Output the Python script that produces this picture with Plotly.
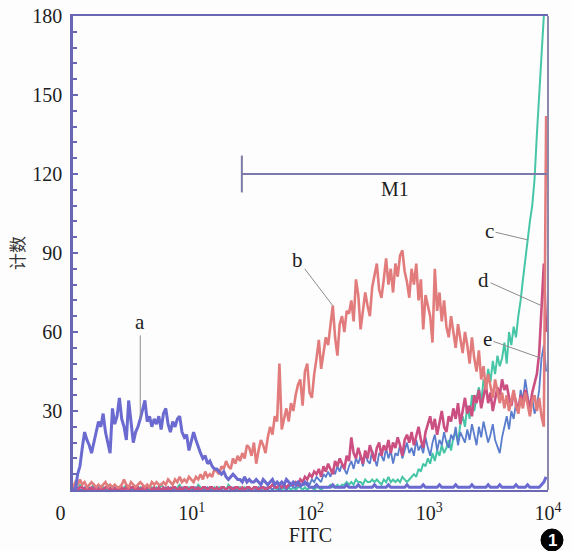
import plotly.graph_objects as go

# histogram channels (1024-channel, 4-decade log scale)
channel = list(range(0, 1021, 5))

# tick labels
x_tickvals = [0, 256, 512, 768, 1024]
x_ticktext = ["0\u00a0\u00a0\u00a0\u00a0\u00a0", "10<sup>1</sup>", "10<sup>2</sup>", "10<sup>3</sup>", "10<sup>4</sup>"]
y_tickvals = [30, 60, 90, 120, 150, 180]

series_a = [
    0, 0, 6, 9, 16, 22, 19, 17, 14, 18,
    21, 26, 24, 29, 22, 18, 14, 31, 25, 28,
    35, 27, 24, 19, 34, 26, 18, 22, 24, 27,
    30, 34, 26, 28, 24, 27, 25, 28, 23, 29,
    31, 25, 22, 26, 24, 27, 28, 22, 20, 21,
    15, 18, 22, 19, 16, 14, 12, 13, 10, 11,
    9, 8, 8, 7, 6, 7, 5, 4, 5, 6,
    5, 4, 4, 3, 5, 3, 4, 3, 3, 4,
    3, 2, 4, 3, 2, 3, 4, 2, 3, 2,
    3, 2, 4, 3, 2, 3, 2, 3, 2, 2,
    3, 2, 1, 1, 1, 2, 1, 1, 1, 1,
    1, 1, 2, 1, 1, 1, 1, 1, 2, 1,
    1, 1, 1, 2, 1, 1, 1, 1, 1, 1,
    2, 1, 1, 1, 1, 1, 2, 1, 1, 1,
    1, 1, 1, 1, 2, 1, 1, 1, 1, 1,
    1, 2, 1, 1, 1, 1, 1, 1, 2, 1,
    1, 1, 1, 1, 1, 2, 1, 1, 1, 1,
    1, 1, 2, 1, 1, 1, 1, 1, 1, 2,
    1, 1, 1, 1, 2, 1, 1, 1, 1, 1,
    1, 2, 1, 1, 1, 1, 2, 1, 1, 1,
    1, 1, 2, 3, 5,
]

series_b = [
    1, 3, 2, 4, 2, 3, 1, 2, 3, 2,
    1, 2, 1, 2, 3, 1, 2, 1, 2, 1,
    1, 2, 4, 2, 1, 3, 2, 1, 2, 3,
    2, 1, 2, 1, 3, 2, 3, 2, 2, 3,
    2, 4, 3, 2, 4, 3, 5, 3, 4, 3,
    5, 4, 3, 5, 4, 6, 4, 7, 5, 6,
    5, 8, 7, 6, 9, 8, 11, 9, 8, 12,
    10, 13, 11, 14, 12, 17, 16, 13, 18, 10,
    15, 19, 17, 14, 20, 24, 21, 28, 26, 48,
    23, 27, 31, 26, 33, 30, 36, 40, 42, 32,
    45, 48, 37, 35, 44, 50, 57, 46, 52, 58,
    55, 62, 70, 58, 51, 63, 66, 60, 68, 67,
    72, 64, 80, 74, 61, 68, 75, 70, 66, 77,
    82, 86, 76, 73, 80, 88, 78, 84, 75, 86,
    81, 89, 91, 83, 79, 73, 84, 78, 86, 72,
    80, 61, 74, 70, 66, 56, 84, 68, 75, 64,
    72, 62, 58, 66, 60, 54, 63, 57, 52, 60,
    55, 48, 58, 50, 45, 53, 42, 47, 38, 44,
    40, 35, 42, 38, 33, 37, 31, 36, 30, 34,
    38, 32, 29, 35, 31, 37, 33, 28, 34, 36,
    30, 35, 28, 24, 142,
]

series_c = [
    0, 1, 0, 2, 1, 0, 1, 0, 1, 2,
    0, 1, 0, 1, 0, 2, 1, 0, 1, 0,
    1, 0, 1, 2, 0, 1, 0, 1, 0, 1,
    0, 1, 2, 0, 1, 0, 1, 0, 2, 1,
    0, 1, 0, 1, 0, 1, 2, 0, 1, 0,
    1, 0, 1, 0, 2, 1, 0, 1, 0, 1,
    0, 1, 0, 1, 0, 1, 0, 2, 1, 0,
    1, 0, 1, 0, 1, 0, 1, 0, 1, 0,
    1, 0, 1, 0, 1, 1, 0, 1, 0, 1,
    0, 1, 0, 1, 0, 1, 0, 1, 1, 0,
    1, 0, 1, 1, 0, 1, 1, 0, 1, 1,
    1, 2, 1, 1, 2, 1, 2, 2, 3, 2,
    3, 2, 4, 3, 3, 2, 4, 3, 3, 4,
    3, 4, 3, 2, 4, 3, 5, 3, 4, 3,
    4, 3, 5, 4, 3, 4, 5, 6, 5, 8,
    7, 10, 9, 12, 10, 14, 11, 15, 13, 17,
    14, 16, 19, 15, 20, 22, 18, 25, 28, 24,
    32, 27, 36, 30, 35, 39, 33, 42, 38, 46,
    41, 49, 44, 51, 47, 50, 56, 48, 60, 55,
    62, 58, 66, 72, 80, 88, 95, 102, 108, 118,
    135, 150, 168, 186, 195,
]

series_d = [
    0, 1, 0, 1, 1, 0, 1, 0, 1, 0,
    1, 0, 1, 0, 1, 1, 0, 1, 0, 1,
    0, 1, 0, 1, 0, 1, 1, 0, 1, 0,
    1, 0, 1, 1, 0, 1, 0, 1, 0, 1,
    0, 1, 0, 1, 1, 0, 1, 0, 1, 1,
    0, 1, 1, 0, 1, 0, 1, 1, 0, 1,
    1, 0, 1, 0, 1, 1, 0, 1, 1, 0,
    1, 1, 0, 1, 0, 1, 1, 0, 1, 1,
    0, 1, 1, 0, 1, 1, 2, 1, 1, 2,
    1, 2, 1, 2, 2, 2, 3, 2, 4, 3,
    5, 4, 6, 5, 7, 6, 8, 5, 9, 7,
    10, 8, 6, 11, 9, 12, 10, 8, 13, 11,
    20, 14, 12, 16, 13, 10, 15, 12, 17, 14,
    11, 16, 18, 13, 17, 15, 19, 14, 18, 16,
    20, 17, 13, 19, 21, 18, 22, 17, 20, 24,
    19, 16, 22, 25, 28, 23, 27, 21, 26, 30,
    24, 22, 28, 26, 31, 27, 33, 25, 30, 35,
    29, 32, 28, 36, 33, 38, 31, 35, 40, 33,
    37, 30, 34, 39, 36, 42, 38, 40, 35, 32,
    37, 34, 30, 36, 33, 38, 35, 31, 37, 40,
    44, 52, 70, 86, 60,
]

series_e = [
    1, 0, 1, 0, 0, 1, 0, 1, 0, 1,
    0, 1, 0, 0, 1, 0, 1, 0, 1, 0,
    0, 1, 0, 1, 0, 0, 1, 0, 1, 0,
    1, 0, 0, 1, 0, 1, 0, 1, 0, 0,
    1, 0, 1, 0, 1, 0, 0, 1, 0, 1,
    0, 1, 0, 1, 0, 0, 1, 0, 1, 0,
    1, 0, 1, 0, 0, 1, 0, 1, 0, 1,
    0, 1, 0, 1, 0, 1, 0, 0, 1, 0,
    1, 0, 1, 1, 0, 1, 0, 1, 1, 0,
    1, 1, 0, 1, 2, 1, 1, 2, 1, 2,
    2, 3, 2, 4, 3, 5, 4, 3, 6, 5,
    7, 5, 8, 6, 9, 7, 10, 8, 6, 9,
    11, 8, 12, 10, 13, 9, 14, 11, 10, 15,
    12, 9, 14, 13, 11, 16, 12, 15, 10, 14,
    13, 17, 12, 15, 18, 14, 16, 13, 19, 15,
    17, 14, 20, 16, 13, 18, 21, 15, 19, 17,
    22, 18, 16, 21, 19, 24, 17, 22, 20, 18,
    23, 19, 25, 21, 17, 24, 20, 26, 22, 18,
    21, 25, 19, 16, 14, 20, 24, 28, 23, 30,
    27, 33, 29, 38, 34, 42, 36, 31, 35, 29,
    32, 38, 50, 55, 45,
]

# M1 gate (channels) and its level (count)
gate_start = 364
gate_end = 1024
gate_level = 120
gate_cap = 7

for s in (series_a, series_b, series_c, series_d, series_e):
    if len(s) != len(channel):
        raise ValueError(f"length {len(s)} != {len(channel)}")

SERIF = "Liberation Serif, Times New Roman, serif"
AXIS_COL = "#6a68b2"

fig = go.Figure()
traces = [
    ("c", series_c, "#46c6a6", 2.0),
    ("e", series_e, "#5a7ccc", 1.8),
    ("d", series_d, "#cc4f82", 2.6),
    ("b", series_b, "#e27c7c", 2.6),
    ("a", series_a, "#6a6ad0", 3.0),
]
for name, vals, col, w in traces:
    fig.add_trace(go.Scatter(x=channel, y=vals, mode="lines", name=name,
                             line=dict(color=col, width=w), hoverinfo="skip"))

# M1 gate marker
fig.add_trace(go.Scatter(
    x=[gate_start, gate_start, None, gate_start, gate_end],
    y=[gate_level - gate_cap, gate_level + gate_cap, None, gate_level, gate_level],
    mode="lines", line=dict(color="#7c7aa8", width=2), hoverinfo="skip"))

# curve labels: (text, series, index, dx, dy)
labels = [
    ("a", series_a, 29, 0, -97),
    ("b", series_b, 112, -35, -46),
    ("c", series_c, 196, -38, -9),
    ("d", series_d, 202, -58, -26),
    ("e", series_e, 202, -54, -19),
]
for txt, vals, idx, dx, dy in labels:
    fig.add_annotation(x=channel[idx], y=vals[idx], text=txt, showarrow=True,
                       arrowhead=0, arrowwidth=1, arrowcolor="#8c8c8c",
                       ax=dx, ay=dy, standoff=0,
                       font=dict(family=SERIF, size=21, color="#1e1e1e"))

fig.add_annotation(x=(gate_start + gate_end) / 2, y=gate_level, text="M1",
                   showarrow=False, yshift=-15,
                   font=dict(family=SERIF, size=20, color="#1e1e1e"))

# figure number badge (black disc with white "1")
fig.add_shape(type="circle", xref="paper", yref="paper",
              x0=(541 - 73) / 475, x1=(563 - 73) / 475,
              y0=(490 - 551) / 474, y1=(490 - 529) / 474,
              fillcolor="#000000", line=dict(color="#000000", width=1))
fig.add_annotation(xref="paper", yref="paper", x=(552 - 73) / 475, y=(490 - 540) / 474,
                   text="<b>1</b>", showarrow=False, xanchor="center", yanchor="middle",
                   font=dict(family="Liberation Sans, Arial, sans-serif", size=17, color="#ffffff"))

fig.add_shape(type="line", xref="paper", yref="paper", x0=1, x1=1, y0=0, y1=1,
              line=dict(color="#8e88aa", width=2))

fig.update_layout(
    width=572, height=551,
    margin=dict(l=73, r=24, t=16, b=61, autoexpand=False),
    paper_bgcolor="#fdfdfd", plot_bgcolor="#fdfdfd",
    showlegend=False,
    xaxis=dict(range=[0, 1024], tickvals=x_tickvals, ticktext=x_ticktext,
               automargin=False,
               showgrid=False, zeroline=False, showline=True, mirror=True,
               linecolor=AXIS_COL, linewidth=2, ticks="",
               tickfont=dict(family=SERIF, size=20, color="#1e1e1e"),
               ticklabelstandoff=4,
               title=dict(text="FITC", standoff=4,
                          font=dict(family=SERIF, size=20, color="#1e1e1e"))),
    yaxis=dict(range=[0, 180], tickvals=y_tickvals,
               automargin=False,
               showgrid=False, zeroline=False, showline=True,
               linecolor=AXIS_COL, linewidth=2.5,
               ticks="inside", ticklen=5, tickwidth=1.5, tickcolor=AXIS_COL,
               minor=dict(ticks="inside", ticklen=4, dtick=6, tickwidth=1.5,
                          tickcolor=AXIS_COL, showgrid=False),
               tickfont=dict(family=SERIF, size=20, color="#1e1e1e"),
               ticklabelstandoff=4,
               title=dict(text="计数", standoff=4,
                          font=dict(family="Noto Sans CJK SC", size=17, color="#333333"))),
)

fig.write_html("out.html", config={"displayModeBar": False},
               post_script="document.body.style.margin='0';document.body.style.overflow='hidden';")
